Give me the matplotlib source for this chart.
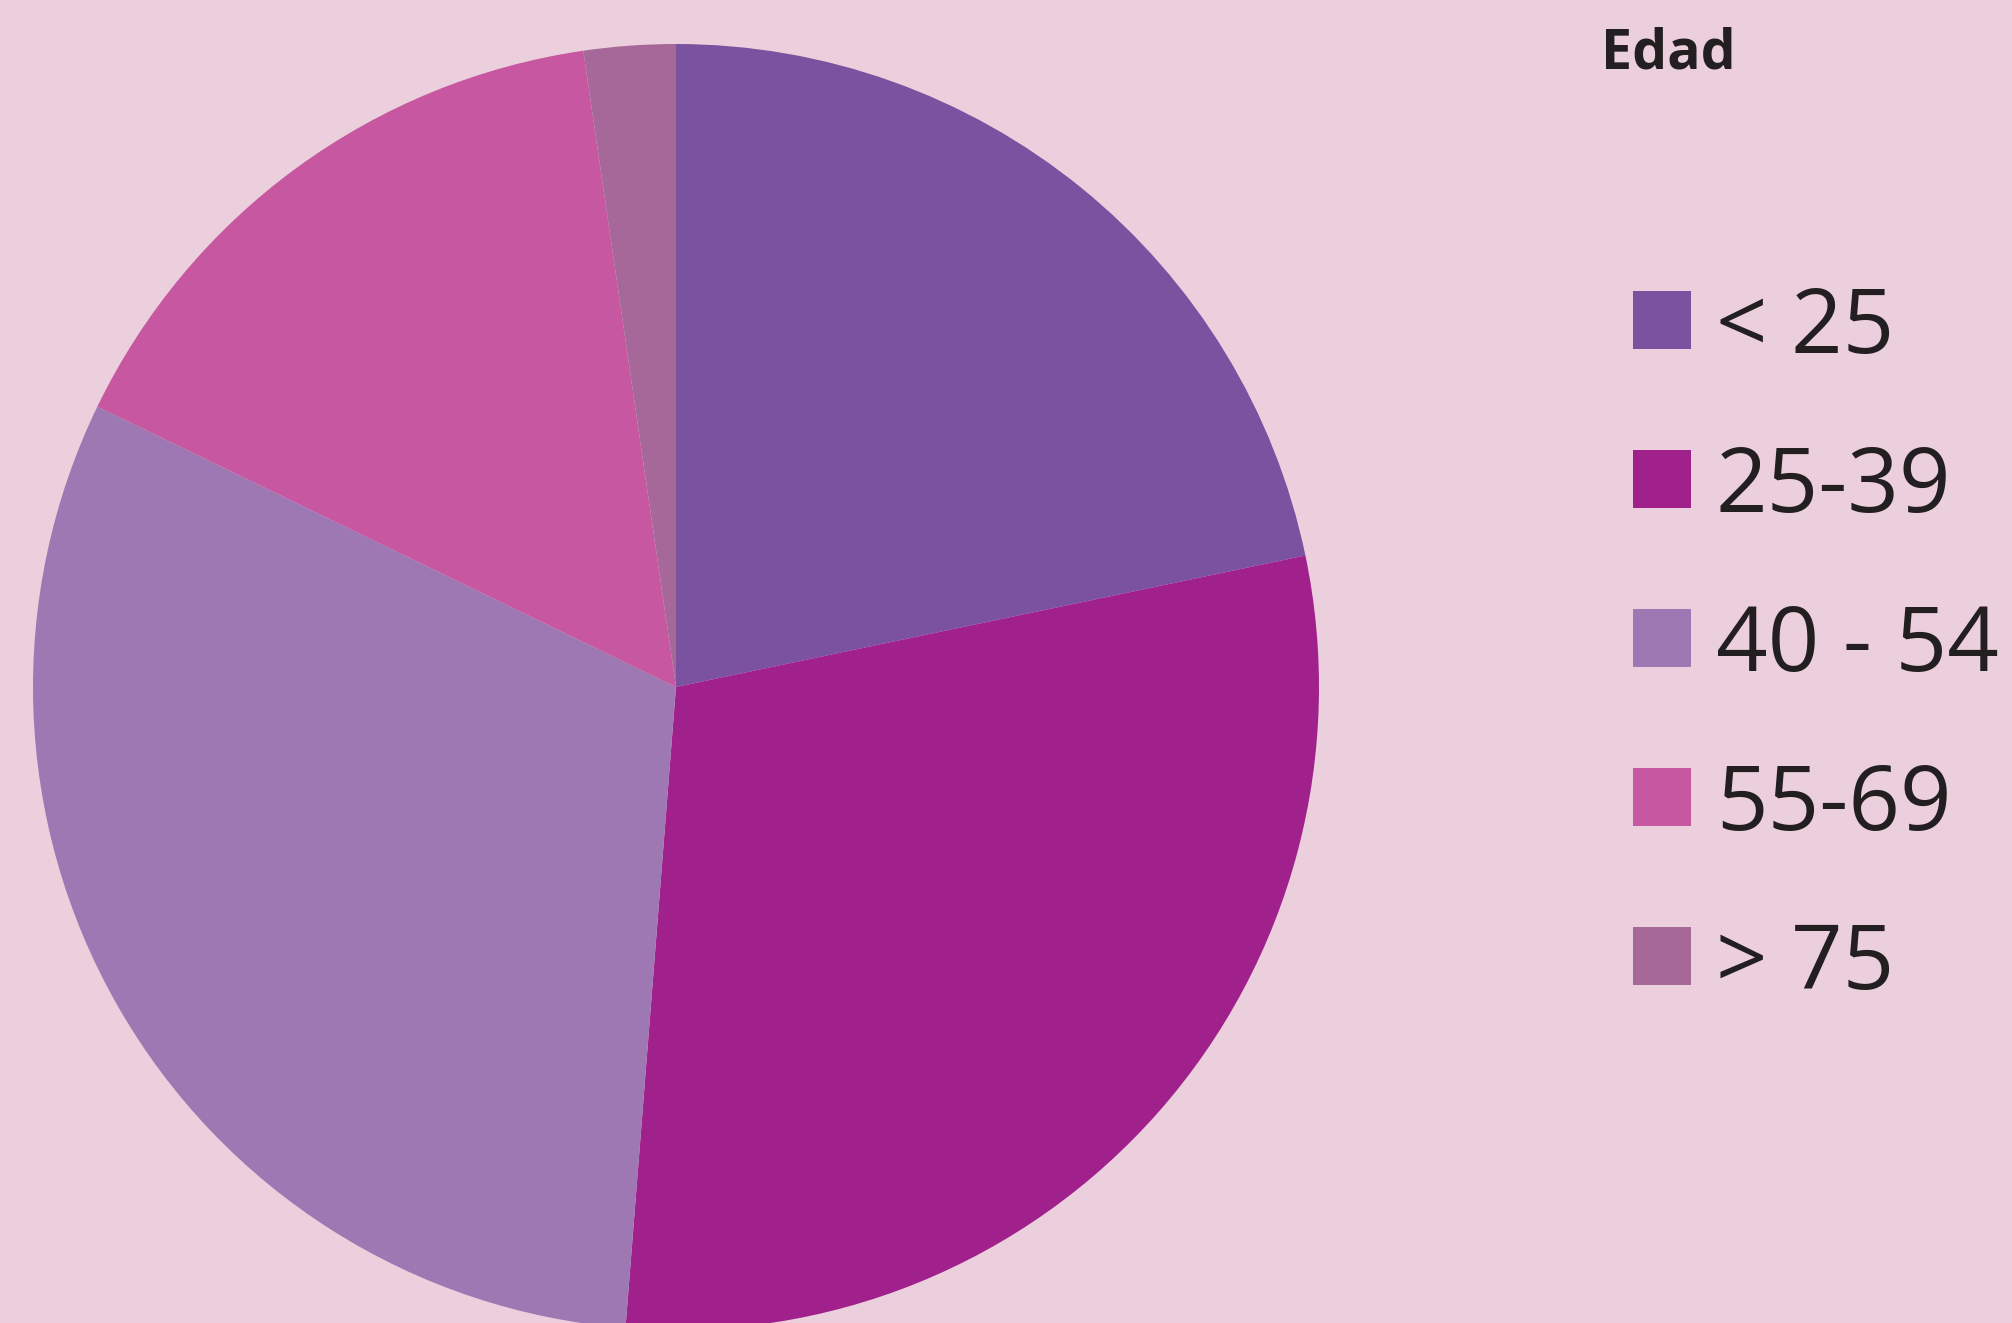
import matplotlib.pyplot as plt
from matplotlib.patches import Rectangle

# Edad - pie chart

labels = ['< 25', '25-39', '40 - 54', '55-69', '> 75']
values = [21.7, 29.5, 30.9, 15.5, 2.3]
colors = ['#7B52A0', '#A0218B', '#9D78B3', '#C657A0', '#A66898']
bg = '#ECCFDD'

W, H = 2012, 1323
fig = plt.figure(figsize=(W / 100, H / 100), dpi=100, facecolor=bg)

# pie: centre (676, 687) px, radius 643 px
cx, cy, r = 676, 687, 643
ax = fig.add_axes([(cx - r) / W, (H - cy - r) / H, 2 * r / W, 2 * r / H])
ax.set_facecolor(bg)
ax.pie(values, colors=colors, startangle=90, counterclock=False, radius=1,
       wedgeprops=dict(linewidth=0.5, edgecolor='none'))
ax.set_xlim(-1, 1)
ax.set_ylim(-1, 1)
ax.set_aspect('equal')
ax.axis('off')

# legend drawn by hand
fig.text(1601 / W, 1 - 54 / H, 'Edad', family='Open Sans', fontweight='bold',
         fontsize=40, color='#231F20', ha='left', va='center')

y0, dy = 320, 159
for i, (lab, col) in enumerate(zip(labels, colors)):
    yc = y0 + i * dy
    fig.patches.append(Rectangle((1633 / W, 1 - (yc + 29) / H), 58 / W, 58 / H,
                                 transform=fig.transFigure, facecolor=col,
                                 edgecolor='none'))
    fig.text(1716 / W, 1 - (yc - 1) / H, lab, family='Open Sans', fontsize=65,
             color='#231F20', ha='left', va='center_baseline')

fig.savefig('out.png', dpi=100, facecolor=bg)
